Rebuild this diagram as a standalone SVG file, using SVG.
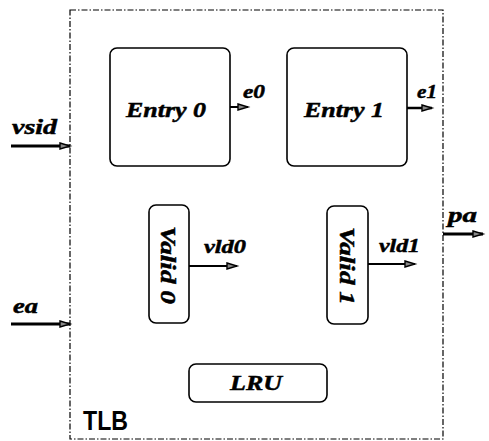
<svg xmlns="http://www.w3.org/2000/svg" width="489" height="441" viewBox="0 0 489 441">
<style>
.box{fill:#fff;stroke:#000;stroke-width:1.6}
.lbl{font-family:"Liberation Serif","Times New Roman",serif;font-weight:bold;font-style:italic;fill:#000;stroke:#000;stroke-width:0.5}
.wire{stroke:#000;fill:none}
</style>
<defs>
<marker id="ah" markerUnits="userSpaceOnUse" markerWidth="14" markerHeight="10" refX="11" refY="5" orient="auto">
<path d="M1,2 L11,5 L1,8 Z" fill="#888" stroke="#000" stroke-width="1.4"/>
</marker>
</defs>
<rect width="489" height="441" fill="#fff"/>
<g id="tlb">
<rect x="70" y="10" width="373" height="429" fill="none" stroke="#000" stroke-width="1.2" stroke-dasharray="6,2,1.5,2"/>
<text x="83" y="430" font-family="Liberation Sans,Arial,sans-serif" font-weight="bold" font-size="28" textLength="45" lengthAdjust="spacingAndGlyphs">TLB</text>
</g>
<g id="entry0">
<rect class="box" x="110" y="48" width="120" height="118" rx="7"/>
<text class="lbl" x="126" y="117" font-size="22" textLength="80" lengthAdjust="spacingAndGlyphs">Entry 0</text>
</g>
<g id="entry1">
<rect class="box" x="287" y="48" width="120" height="118" rx="7"/>
<text class="lbl" x="304" y="117" font-size="22" textLength="80" lengthAdjust="spacingAndGlyphs">Entry 1</text>
</g>
<g id="valid0">
<rect class="box" x="149" y="205" width="40" height="118" rx="7"/>
<text class="lbl" transform="translate(161,226) rotate(90)" font-size="22" textLength="78" lengthAdjust="spacingAndGlyphs">Valid 0</text>
</g>
<g id="valid1">
<rect class="box" x="327" y="206" width="41" height="118" rx="7"/>
<text class="lbl" transform="translate(340,227) rotate(90)" font-size="22" textLength="78" lengthAdjust="spacingAndGlyphs">Valid 1</text>
</g>
<g id="lru">
<rect class="box" x="189" y="364" width="138" height="38" rx="7"/>
<text class="lbl" x="230" y="390" font-size="22" textLength="52" lengthAdjust="spacingAndGlyphs">LRU</text>
</g>
<g id="connectors">
<line class="wire" x1="11" y1="146" x2="70" y2="146" stroke-width="3" marker-end="url(#ah)"/>
<line class="wire" x1="11" y1="324" x2="70" y2="324" stroke-width="3" marker-end="url(#ah)"/>
<line class="wire" x1="230" y1="107" x2="248" y2="107" stroke-width="2" marker-end="url(#ah)"/>
<line class="wire" x1="407" y1="108" x2="432" y2="108" stroke-width="2.5" marker-end="url(#ah)"/>
<line class="wire" x1="189" y1="266" x2="237" y2="266" stroke-width="2" marker-end="url(#ah)"/>
<line class="wire" x1="368" y1="264" x2="415" y2="264" stroke-width="2" marker-end="url(#ah)"/>
<line class="wire" x1="443" y1="234" x2="483" y2="234" stroke-width="3" marker-end="url(#ah)"/>
<text class="lbl" x="12" y="134" font-size="21" textLength="45" lengthAdjust="spacingAndGlyphs">vsid</text>
<text class="lbl" x="13" y="313" font-size="21" textLength="25" lengthAdjust="spacingAndGlyphs">ea</text>
<text class="lbl" x="243" y="98" font-size="19" textLength="22" lengthAdjust="spacingAndGlyphs">e0</text>
<text class="lbl" x="417" y="98" font-size="19" textLength="20" lengthAdjust="spacingAndGlyphs">e1</text>
<text class="lbl" x="204" y="253" font-size="19" textLength="42" lengthAdjust="spacingAndGlyphs">vld0</text>
<text class="lbl" x="379" y="252" font-size="19" textLength="41" lengthAdjust="spacingAndGlyphs">vld1</text>
<text class="lbl" x="448" y="222" font-size="21" textLength="29" lengthAdjust="spacingAndGlyphs">pa</text>
</g>
</svg>
